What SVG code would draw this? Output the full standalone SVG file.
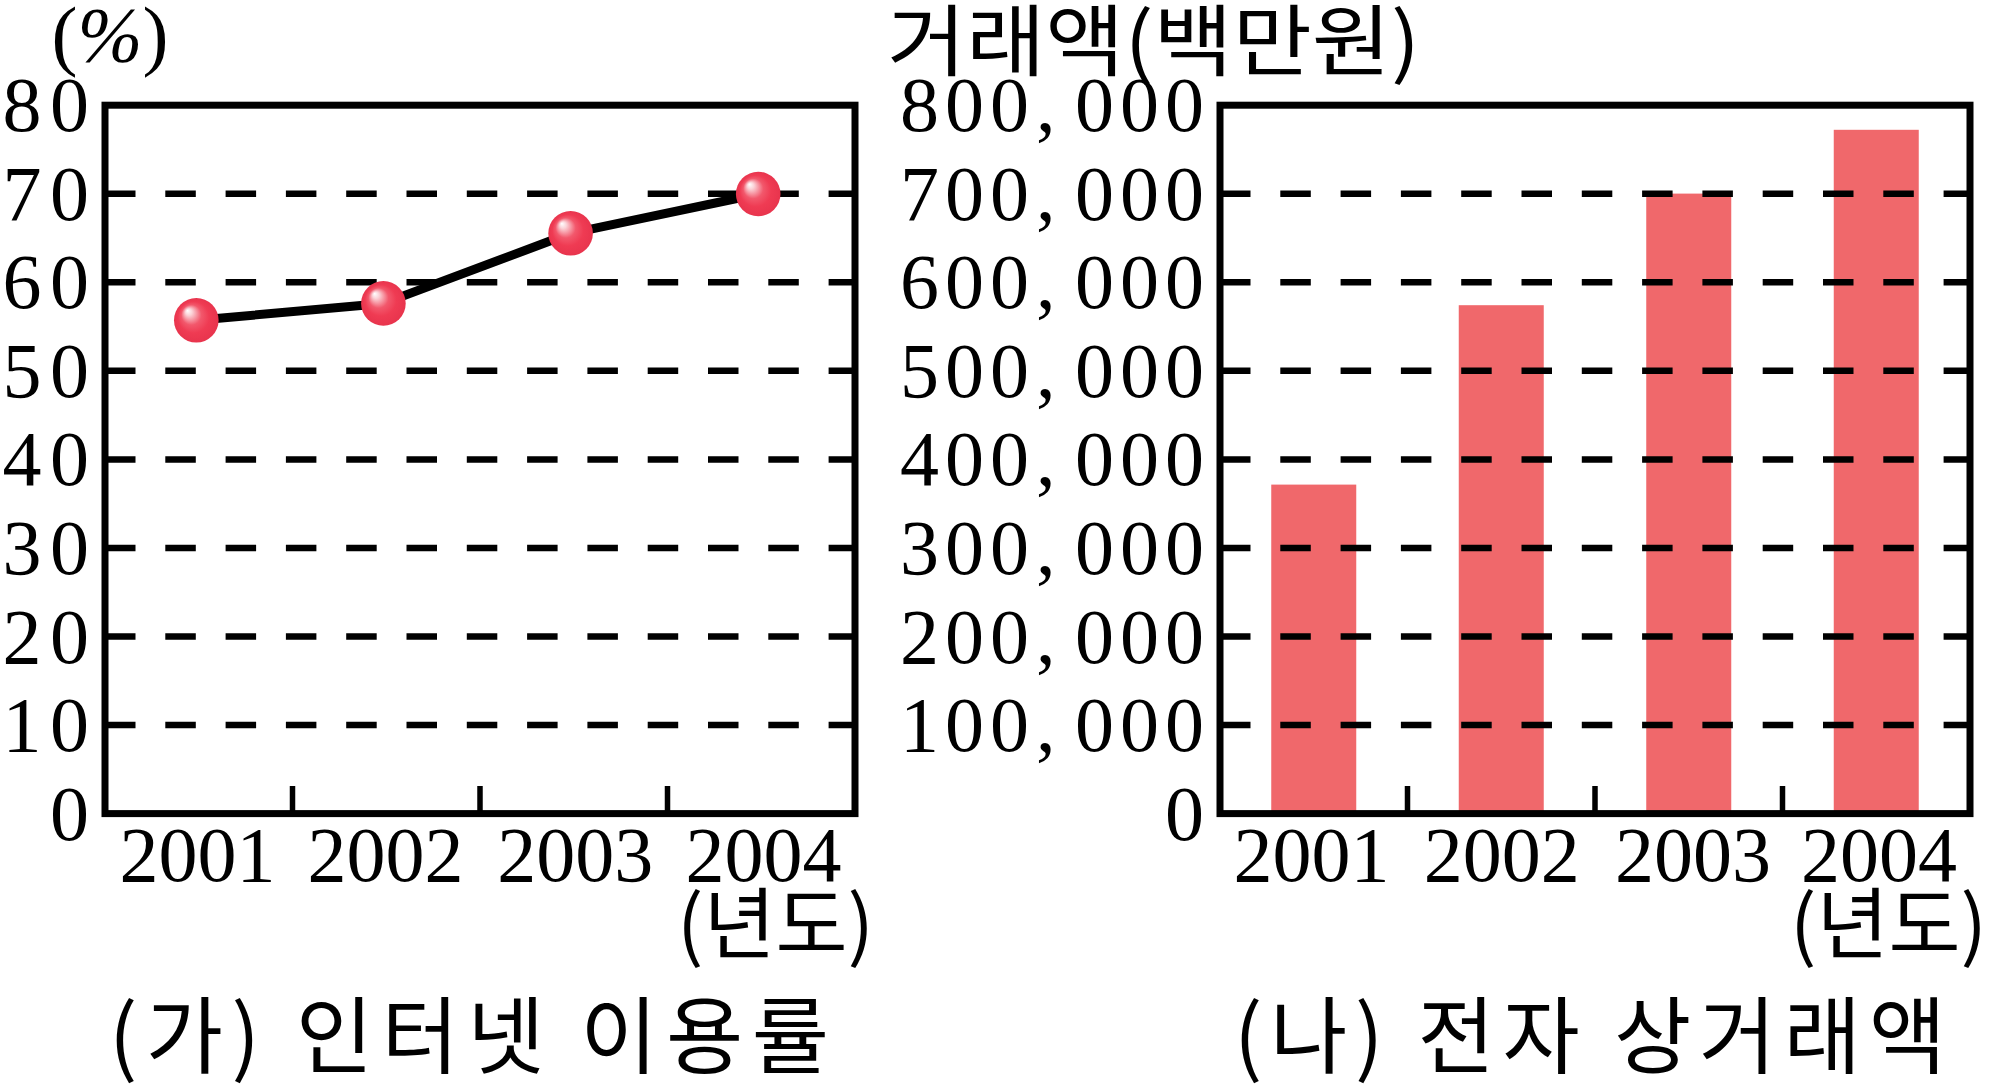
<svg xmlns="http://www.w3.org/2000/svg" width="1991" height="1088" viewBox="0 0 1991 1088">
<style>
.num{font-family:"Liberation Serif","DejaVu Serif",serif;font-size:78px;fill:#000}
.kr{font-family:"Noto Sans CJK KR","Noto Sans",sans-serif;fill:#000}
.box{fill:none;stroke:#000;stroke-width:7}
.grid{stroke:#000;stroke-width:6.5;stroke-dasharray:30.5 29.8;fill:none}
.tick{stroke:#000;stroke-width:5.5}
.bar{fill:#f0686b}
.ball{fill:url(#ballGrad)}
</style>
<defs>
<radialGradient id="ballGrad" cx="50%" cy="50%" r="50%" fx="30%" fy="28%">
<stop offset="0" stop-color="#ffffff"/>
<stop offset="0.15" stop-color="#fbd3d8"/>
<stop offset="0.45" stop-color="#f2586c"/>
<stop offset="0.7" stop-color="#ef3b53"/>
<stop offset="1" stop-color="#e8344d"/>
</radialGradient>
</defs>
<rect width="1991" height="1088" fill="#fff"/>

<!-- Left chart: internet usage rate -->
<g id="chart-left">
<g id="left-grid">
<line class="grid" x1="105" y1="725.05" x2="855" y2="725.05"/>
<line class="grid" x1="105" y1="636.5" x2="855" y2="636.5"/>
<line class="grid" x1="105" y1="547.95" x2="855" y2="547.95"/>
<line class="grid" x1="105" y1="459.4" x2="855" y2="459.4"/>
<line class="grid" x1="105" y1="370.85" x2="855" y2="370.85"/>
<line class="grid" x1="105" y1="282.3" x2="855" y2="282.3"/>
<line class="grid" x1="105" y1="193.75" x2="855" y2="193.75"/>
</g>
<rect id="left-box" class="box" x="105" y="105.2" width="750" height="708.4"/>
<g id="left-ticks">
<line class="tick" x1="292.5" y1="786" x2="292.5" y2="812"/>
<line class="tick" x1="480" y1="786" x2="480" y2="812"/>
<line class="tick" x1="667.5" y1="786" x2="667.5" y2="812"/>
</g>
<g id="left-yaxis" class="num">
<text x="2.5 50" y="131.2">80</text>
<text x="2.5 50" y="219.75">70</text>
<text x="2.5 50" y="308.3">60</text>
<text x="2.5 50" y="396.85">50</text>
<text x="2.5 50" y="485.4">40</text>
<text x="2.5 50" y="573.95">30</text>
<text x="2.5 50" y="662.5">20</text>
<text x="2.5 50" y="751.05">10</text>
<text x="50" y="839.6">0</text>
</g>
<text id="left-unit" class="num" x="110" y="61" text-anchor="middle" font-size="80">(<tspan font-style="italic">%</tspan>)</text>
<g id="left-xaxis" class="num" text-anchor="middle">
<text x="197.4" y="880.8">2001</text>
<text x="385.4" y="880.8">2002</text>
<text x="575.2" y="880.8">2003</text>
<text x="763.4" y="880.8">2004</text>
</g>
<text id="left-xunit" class="kr" x="874" y="953" font-size="78" text-anchor="end" textLength="197" lengthAdjust="spacingAndGlyphs">(년도)</text>
<g id="left-series">
<polyline points="196.3,320.3 383.4,303.4 570.6,233.3 758.2,194" fill="none" stroke="#000" stroke-width="9" stroke-linejoin="round"/>
</g>
<g id="point-2001"><circle class="ball" cx="196.3" cy="320.3" r="22.3"/></g>
<g id="point-2002"><circle class="ball" cx="383.4" cy="303.4" r="22.3"/></g>
<g id="point-2003"><circle class="ball" cx="570.6" cy="233.3" r="22.3"/></g>
<g id="point-2004"><circle class="ball" cx="758.2" cy="194" r="22.3"/></g>
<text id="left-caption" class="kr" x="109" y="1067" font-size="84" textLength="720" lengthAdjust="spacing">(가) 인터넷 이용률</text>
</g>

<!-- Right chart: e-commerce amount -->
<g id="chart-right">
<g id="bars">
<rect id="bar-2001" class="bar" x="1271.25" y="484.6" width="85" height="329"/>
<rect id="bar-2002" class="bar" x="1458.75" y="305.2" width="85" height="508.4"/>
<rect id="bar-2003" class="bar" x="1646.25" y="193.6" width="85" height="620"/>
<rect id="bar-2004" class="bar" x="1833.75" y="129.8" width="85" height="683.8"/>
</g>
<g id="right-grid">
<line class="grid" x1="1220" y1="725.05" x2="1970" y2="725.05"/>
<line class="grid" x1="1220" y1="636.5" x2="1970" y2="636.5"/>
<line class="grid" x1="1220" y1="547.95" x2="1970" y2="547.95"/>
<line class="grid" x1="1220" y1="459.4" x2="1970" y2="459.4"/>
<line class="grid" x1="1220" y1="370.85" x2="1970" y2="370.85"/>
<line class="grid" x1="1220" y1="282.3" x2="1970" y2="282.3"/>
<line class="grid" x1="1220" y1="193.75" x2="1970" y2="193.75"/>
</g>
<rect id="right-box" class="box" x="1220" y="105.2" width="750" height="708.4"/>
<g id="right-ticks">
<line class="tick" x1="1407.5" y1="786" x2="1407.5" y2="812"/>
<line class="tick" x1="1595" y1="786" x2="1595" y2="812"/>
<line class="tick" x1="1782.5" y1="786" x2="1782.5" y2="812"/>
</g>
<g id="right-yaxis" class="num">
<text x="900 945 990 1036 1075 1120 1165" y="131.2">800,000</text>
<text x="900 945 990 1036 1075 1120 1165" y="219.75">700,000</text>
<text x="900 945 990 1036 1075 1120 1165" y="308.3">600,000</text>
<text x="900 945 990 1036 1075 1120 1165" y="396.85">500,000</text>
<text x="900 945 990 1036 1075 1120 1165" y="485.4">400,000</text>
<text x="900 945 990 1036 1075 1120 1165" y="573.95">300,000</text>
<text x="900 945 990 1036 1075 1120 1165" y="662.5">200,000</text>
<text x="900 945 990 1036 1075 1120 1165" y="751.05">100,000</text>
<text x="1165" y="839.6">0</text>
</g>
<text id="right-unit" class="kr" x="887" y="70" font-size="78" textLength="533" lengthAdjust="spacingAndGlyphs">거래액(백만원)</text>
<g id="right-xaxis" class="num" text-anchor="middle">
<text x="1311.5" y="880.8">2001</text>
<text x="1501.7" y="880.8">2002</text>
<text x="1693" y="880.8">2003</text>
<text x="1879" y="880.8">2004</text>
</g>
<text id="right-xunit" class="kr" x="1987" y="953" font-size="78" text-anchor="end" textLength="197" lengthAdjust="spacingAndGlyphs">(년도)</text>
<text id="right-caption" class="kr" x="1234" y="1067" font-size="84" textLength="712" lengthAdjust="spacing">(나) 전자 상거래액</text>
</g>
</svg>
